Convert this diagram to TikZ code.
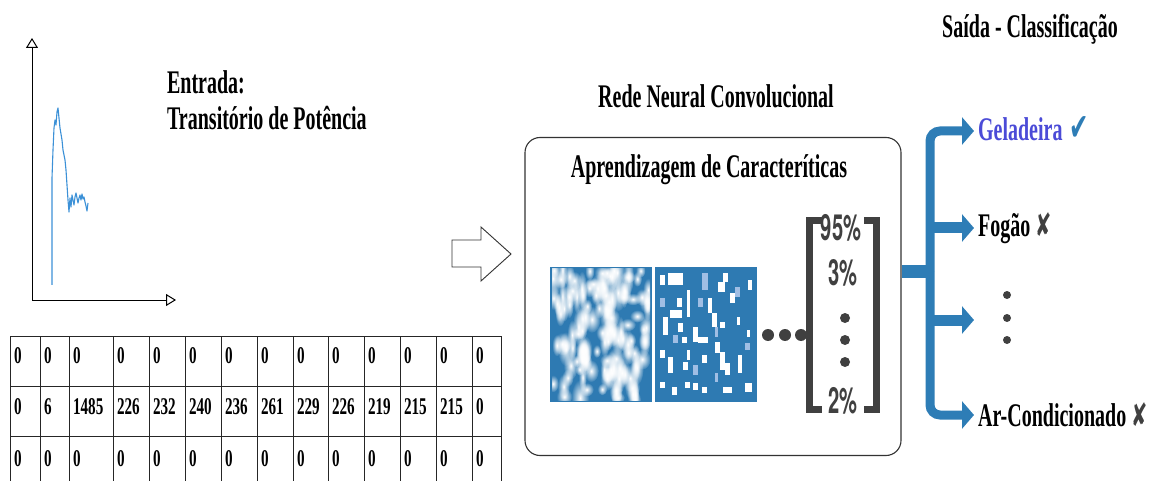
\documentclass[tikz,border=0pt]{standalone}
\usepackage{fontspec}
\setmainfont{Liberation Serif}
\newfontfamily\symfont{DejaVu Sans}
\newfontfamily\pctfont{TeX Gyre Heros}
\usetikzlibrary{arrows.meta,fadings}
\definecolor{imgblue}{RGB}{46,122,178}
\definecolor{treeblue}{RGB}{46,125,182}
\definecolor{sigblue}{RGB}{60,145,215}
\definecolor{gelcol}{RGB}{75,75,215}
\definecolor{darkgrey}{RGB}{64,64,64}
\definecolor{lightpatch}{RGB}{160,190,228}
\tikzfading[name=blobfade, inner color=transparent!0, outer color=transparent!100]
\begin{document}
\begin{tikzpicture}[x=1pt,y=-1pt,
  big/.style={font=\bfseries\fontsize{33}{35}\selectfont, xscale=0.606, inner sep=0pt},
  cell/.style={font=\bfseries\fontsize{24}{26}\selectfont, xscale=0.63, inner sep=0pt, anchor=base west},
  pct/.style={font=\pctfont\bfseries\fontsize{36}{38}\selectfont, xscale=0.56, inner sep=0pt, anchor=base, text=darkgrey},
  grid/.style={draw=black!85, line width=0.9pt},
  tree/.style={draw=treeblue, line width=9pt, -{Triangle[length=12pt,width=27pt]}},
  brk/.style={draw=darkgrey, line width=7pt, line join=miter},
  axis/.style={draw=black, line width=1pt, -{Triangle[open,length=10pt,width=12pt]}},
  dot/.style={fill=darkgrey}]
\useasboundingbox (0,0) rectangle (1149,481);

% ---------- plot ----------
\coordinate (origin) at (32,300);
\coordinate (ytop) at (32,38);
\coordinate (xend) at (176,300);
\draw[axis] (origin) -- (ytop);
\draw[axis] (origin) -- (xend);
\draw[sigblue, line width=1.1pt, line join=round]
  (52,285) -- (52,178) -- (53,150) -- (54,128) -- (55,120) -- (56,125) -- (57,112) -- (58,108)
  -- (59,118) -- (60,128) -- (62,140) -- (63,150) -- (65,160) -- (66,170) -- (67,185) -- (68,200)
  -- (69,212) -- (70,198) -- (71,207) -- (72,195) -- (73,200) -- (74,205) -- (75,197) -- (76,193)
  -- (77,198) -- (78,203) -- (79,198) -- (80,195) -- (81,200) -- (82,194) -- (83,199) -- (84,197)
  -- (85,202) -- (86,206) -- (87,211) -- (88,203);

\node[big, anchor=base west] (in1) at (167,94) {Entrada:};
\node[big, anchor=base west] (in2) at (167,130) {Transitório de Potência};

% ---------- table ----------
\foreach \x in {10,40,69,113,149,185,221,257,293,328,364,400,436,472,501}
  \draw[grid] (\x,336) -- (\x,481);
\foreach \y in {336,386,436}
  \draw[grid] (10,\y) -- (501,\y);
\foreach \x/\v [count=\c] in {10/0,40/0,69/0,113/0,149/0,185/0,221/0,257/0,293/0,328/0,364/0,400/0,436/0,472/0}
  \node[cell] (r1c\c) at (\x+4,363) {\v};
\foreach \x/\v [count=\c] in {10/0,40/6,69/1485,113/226,149/232,185/240,221/236,257/261,293/229,328/226,364/219,400/215,436/215,472/0}
  \node[cell] (r2c\c) at (\x+4,414) {\v};
\foreach \x/\v [count=\c] in {10/0,40/0,69/0,113/0,149/0,185/0,221/0,257/0,293/0,328/0,364/0,400/0,436/0,472/0}
  \node[cell] (r3c\c) at (\x+4,466) {\v};

% ---------- hollow arrow ----------
\draw[black!80, line width=0.9pt, line join=miter]
  (452,240) -- (481,240) -- (481,227) -- (511,254) -- (481,281) -- (481,267) -- (452,267) -- cycle;

% ---------- CNN box ----------
\node[big, anchor=base] (cnntitle) at (716,108) {Rede Neural Convolucional};
\node[draw=black!80, line width=1.1pt, rounded corners=15pt, minimum width=376pt, minimum height=318pt, inner sep=0pt]
  (cnn) at (713,296.5) {};
\node[big, anchor=base] (feat) at (709,178) {Aprendizagem de Caracteríticas};

% image 1 : blurred blobs
\fill[imgblue] (550,267) rectangle (652,402);
\begin{scope}
  \clip (552,269) rectangle (650,400);
  \pgfmathsetseed{11}
  \foreach \i in {1,...,130}{
    \pgfmathsetmacro\bx{553+rnd*96}
    \pgfmathsetmacro\by{270+rnd*130}
    \pgfmathsetmacro\ba{4+rnd*5}
    \pgfmathsetmacro\bb{6+rnd*13}
    \fill[white, path fading=blobfade] (\bx,\by) ellipse ({\ba pt} and {\bb pt});
  }
\end{scope}

% image 2 : blocky pattern
\fill[imgblue] (655,267) rectangle (757,402);
\foreach \a/\b/\c/\d in {660/275/665/285, 668/273/683/285, 723/273/728/282, 718/282/725/292, 748/280/752/290,
  730/293/735/303, 677/298/682/307, 687/290/690/317, 708/298/712/313, 670/310/682/318, 663/317/668/335,
  678/323/683/332, 712/313/717/327, 720/322/725/328, 737/317/740/325, 693/327/698/342, 698/337/708/343,
  682/337/687/343, 747/330/750/337, 660/350/665/358, 687/350/690/360, 715/342/720/353, 668/357/673/373,
  683/362/688/370, 702/355/707/363, 720/352/725/370, 725/363/730/375, 738/355/742/373, 660/382/665/388,
  672/387/677/395, 685/382/690/388, 693/383/698/390, 702/387/707/393, 723/387/732/393, 745/383/752/392}
  \fill[white] (\a,\b) rectangle (\c,\d);
\foreach \a/\b/\c/\d in {702/273/708/290, 735/287/740/297, 660/298/665/307, 698/298/703/307, 715/327/718/337,
  673/335/678/343, 745/343/750/350, 693/365/698/375, 715/373/718/382}
  \fill[lightpatch] (\a,\b) rectangle (\c,\d);

% dots
\foreach \x [count=\i] in {768,785,801}
  \fill[dot] (\x,335) circle (6pt);

% bracket
\draw[brk] (822,220.5) -- (809,220.5) -- (809,409.5) -- (822,409.5);
\draw[brk] (864,220.5) -- (876,220.5) -- (876,409.5) -- (864,409.5);
\node[pct] (p1) at (841,241) {95\%};
\node[pct] (p2) at (843,286) {3\%};
\node[pct] (p3) at (843,413) {2\%};
\foreach \y in {318,340,362}
  \fill[dot] (845,\y) circle (5pt);

% ---------- output ----------
\node[big, anchor=base] (outtitle) at (1030,38) {Saída - Classificação};
\node[big, anchor=base west, text=gelcol] (gel) at (978,141) {Geladeira\hspace{4pt} {\symfont\fontsize{38}{40}\selectfont\color{treeblue}✔}};
\node[big, anchor=base west] (fog) at (978,237) {Fogão {\symfont\fontsize{32}{34}\selectfont\color{darkgrey}✘}};
\node[big, anchor=base west] (ar) at (978,426) {Ar-Condicionado {\symfont\fontsize{32}{34}\selectfont\color{darkgrey}✘}};
\foreach \y in {295,318,340}
  \fill[dot] (1007,\y) circle (4pt);

\coordinate (hub) at (930,272);
\coordinate (a1) at (974,131);
\coordinate (a2) at (974,228);
\coordinate (a3) at (974,320);
\coordinate (a4) at (974,415);
\draw[treeblue, line width=13pt] (cnn.east |- hub) -- (934,272);
\draw[tree, rounded corners=10pt] (hub) -- (hub |- a1) -- (a1);
\draw[tree, rounded corners=10pt] (hub) -- (hub |- a4) -- (a4);
\draw[tree, line width=11pt] (hub |- a2) -- (a2);
\draw[tree, line width=11pt] (hub |- a3) -- (a3);
\end{tikzpicture}
\end{document}
